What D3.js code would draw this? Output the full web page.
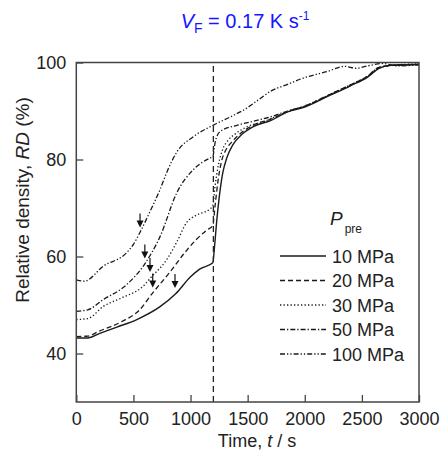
<!DOCTYPE html>
<html>
<head>
<meta charset="utf-8">
<title>Relative density vs time</title>
<script src="https://d3js.org/d3.v7.min.js"></script>
<style>
  body { margin: 0; background: #fff; }
  svg { font-family: Arial, "Liberation Sans", sans-serif; }
</style>
</head>
<body>
<svg width="442" height="459"></svg>
<script>
// ticks
var tTicks = [0, 500, 1000, 1500, 2000, 2500, 3000];
var rdTicks = [40, 60, 80, 100];

// P_pre = 10 MPa (solid)
var t10  = [0, 100, 200, 350, 530, 730, 870, 1000, 1080, 1195, 1210, 1230, 1250, 1280, 1320, 1370, 1450, 1550, 1700, 1850, 2000, 2200, 2400, 2550, 2650, 2750, 3000];
var rd10 = [43.2, 43.2, 44.1, 45.4, 47.0, 49.6, 52.3, 55.8, 57.4, 58.7, 62.0, 67.5, 72.0, 77.0, 80.5, 83.0, 85.2, 86.8, 88.0, 89.8, 90.8, 93.0, 95.2, 97.0, 98.8, 99.4, 99.6];
// 20 MPa (dashed)
var t20  = [0, 100, 200, 400, 550, 669, 820, 950, 1050, 1140, 1195, 1215, 1240, 1270, 1310, 1360, 1450, 1550, 1700, 1850, 2000, 2200, 2400, 2550, 2650, 2800, 3000];
var rd20 = [43.5, 43.6, 44.6, 46.6, 48.9, 52.5, 56.8, 60.8, 63.5, 65.4, 66.4, 70.5, 75.5, 79.5, 82.0, 83.6, 85.6, 87.1, 88.3, 89.9, 91.0, 93.2, 95.4, 97.2, 99.0, 99.5, 99.6];
// 30 MPa (dotted)
var t30  = [0, 100, 236, 400, 586, 650, 790, 880, 966, 1050, 1170, 1195, 1215, 1245, 1280, 1330, 1400, 1500, 1650, 1800, 2000, 2200, 2400, 2550, 2650, 2800, 3000];
var rd30 = [47.0, 47.2, 49.7, 51.5, 53.9, 55.6, 59.3, 63.0, 67.0, 68.5, 69.8, 70.5, 74.5, 79.0, 82.0, 84.0, 85.4, 86.8, 87.9, 89.4, 91.0, 93.2, 95.4, 97.2, 99.0, 99.5, 99.7];
// 50 MPa (dash-dot)
var t50  = [0, 100, 236, 441, 600, 733, 879, 1024, 1170, 1195, 1215, 1260, 1400, 1550, 1700, 1850, 2000, 2200, 2400, 2550, 2650, 2800, 3000];
var rd50 = [48.7, 49.0, 51.1, 54.2, 58.5, 64.1, 73.1, 77.9, 80.3, 80.6, 83.5, 85.8, 87.0, 87.9, 88.8, 90.0, 91.0, 93.1, 95.3, 97.1, 98.9, 99.5, 99.6];
// 100 MPa (dash-dot-dot)
var t100  = [0, 70, 236, 441, 500, 558, 650, 733, 800, 879, 1024, 1200, 1350, 1492, 1600, 1696, 1850, 1988, 2192, 2350, 2450, 2550, 2688, 2800, 3000];
var rd100 = [55.2, 54.9, 58.0, 60.8, 62.5, 65.0, 69.5, 73.8, 77.8, 81.5, 84.7, 87.1, 88.8, 90.6, 92.4, 94.0, 95.5, 96.8, 98.1, 99.2, 98.8, 99.3, 99.8, 99.3, 99.5];

var labels = ["10 MPa", "20 MPa", "30 MPa", "50 MPa", "100 MPa"];
var dashes = [null, "5,3", "1.3,2.2", "5,2,1.3,2", "5,2,1.3,2,1.3,2"];

// arrow tips [t, RD]
var arrowT  = [558, 600, 645, 669, 864];
var arrowRD = [66.0, 59.6, 56.8, 53.6, 53.5];

var switchTime = 1200;

var series = [[t10, rd10], [t20, rd20], [t30, rd30], [t50, rd50], [t100, rd100]];

var svg = d3.select("svg");
var x = d3.scaleLinear().domain([0, 3000]).range([76.3, 419]);
var y = d3.scaleLinear().domain([30, 100]).range([402, 62.5]);

// curves
var line = d3.line()
    .x(function(d) { return x(d[0]); })
    .y(function(d) { return y(d[1]); })
    .curve(d3.curveMonotoneX);

series.forEach(function(s, i) {
    var pts = s[0].map(function(t, j) { return [t, s[1][j]]; });
    svg.append("path")
        .attr("d", line(pts))
        .attr("fill", "none")
        .attr("stroke", "#1a1a1a")
        .attr("stroke-width", i == 0 ? 1.4 : 1.3)
        .attr("stroke-dasharray", dashes[i]);
});

// vertical dashed line at t = 1200 s
svg.append("line")
    .attr("x1", x(switchTime)).attr("x2", x(switchTime))
    .attr("y1", y(30)).attr("y2", y(100))
    .attr("stroke", "#222")
    .attr("stroke-width", 1.3)
    .attr("stroke-dasharray", "6,4");

// arrows
arrowT.forEach(function(t, i) {
    var ax = x(t), ay = y(arrowRD[i]);
    svg.append("line")
        .attr("x1", ax).attr("x2", ax)
        .attr("y1", ay - 14).attr("y2", ay - 5)
        .attr("stroke", "#111").attr("stroke-width", 1.2);
    svg.append("path")
        .attr("d", "M" + (ax - 3.5) + "," + (ay - 7) + "L" + (ax + 3.5) + "," + (ay - 7) + "L" + ax + "," + ay + "Z")
        .attr("fill", "#111");
});

// axes (ticks inward)
svg.append("g")
    .attr("transform", "translate(0,402)")
    .call(d3.axisBottom(x).tickValues(tTicks).tickFormat(d3.format("d")).tickSizeInner(-7).tickSizeOuter(0).tickPadding(10))
    .call(function(g) {
        g.select(".domain").remove();
        g.selectAll("line").attr("stroke", "#444").attr("stroke-width", 1.3);
        g.selectAll("text").attr("font-size", 18).attr("fill", "#222").attr("font-family", "Arial, 'Liberation Sans', sans-serif");
    });

svg.append("g")
    .attr("transform", "translate(76.3,0)")
    .call(d3.axisLeft(y).tickValues(rdTicks).tickFormat(d3.format("d")).tickSizeInner(-7).tickSizeOuter(0).tickPadding(10))
    .call(function(g) {
        g.select(".domain").remove();
        g.selectAll("line").attr("stroke", "#444").attr("stroke-width", 1.3);
        g.selectAll("text").attr("font-size", 18).attr("fill", "#222").attr("font-family", "Arial, 'Liberation Sans', sans-serif");
    });

// frame
svg.append("rect")
    .attr("x", 76.3).attr("y", 62.5)
    .attr("width", 419 - 76.3).attr("height", 402 - 62.5)
    .attr("fill", "none")
    .attr("stroke", "#444")
    .attr("stroke-width", 1.5);

// axis titles
var xt = svg.append("text")
    .attr("x", 257).attr("y", 447)
    .attr("text-anchor", "middle")
    .attr("font-size", 18).attr("fill", "#222");
xt.append("tspan").text("Time, ");
xt.append("tspan").attr("font-style", "italic").text("t");
xt.append("tspan").text(" / s");

var yt = svg.append("text")
    .attr("transform", "translate(29,200) rotate(-90)")
    .attr("text-anchor", "middle")
    .attr("font-size", 19).attr("fill", "#222");
yt.append("tspan").text("Relative density, ");
yt.append("tspan").attr("font-style", "italic").text("RD");
yt.append("tspan").text(" (%)");

// title
var tt = svg.append("text")
    .attr("x", 245).attr("y", 28)
    .attr("text-anchor", "middle")
    .attr("font-size", 20).attr("fill", "#1515ff");
tt.append("tspan").attr("font-style", "italic").text("V");
tt.append("tspan").attr("font-size", 14).attr("dy", 5).text("F");
tt.append("tspan").attr("dy", -5).text(" = 0.17 K s");
tt.append("tspan").attr("font-size", 12).attr("dy", -8).text("-1");

// legend
var pl = svg.append("text").attr("x", 330).attr("y", 225).attr("fill", "#222");
pl.append("tspan").attr("font-size", 19).attr("font-style", "italic").text("P");
pl.append("tspan").attr("font-size", 12).attr("dx", 2).attr("dy", 8).text("pre");

labels.forEach(function(lab, i) {
    var ly = 256 + i * 24.5;
    svg.append("line")
        .attr("x1", 280).attr("x2", 326)
        .attr("y1", ly).attr("y2", ly)
        .attr("stroke", "#1a1a1a").attr("stroke-width", 1.3)
        .attr("stroke-dasharray", dashes[i]);
    svg.append("text")
        .attr("x", 332).attr("y", ly + 6.5)
        .attr("font-size", 18).attr("fill", "#222")
        .text(lab);
});
</script>
</body>
</html>
